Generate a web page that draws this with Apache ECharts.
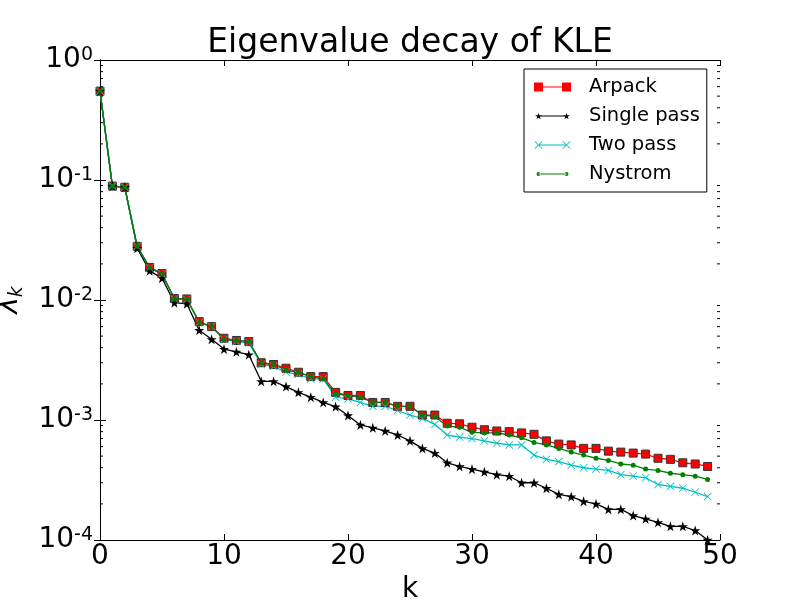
<!DOCTYPE html>
<html>
<head>
<meta charset="utf-8">
<script src="https://cdn.jsdelivr.net/npm/echarts@6/dist/echarts.min.js"></script>
<style>
  html, body { margin: 0; padding: 0; background: #fff; }
  #chart { width: 800px; height: 600px; }
</style>
</head>
<body>
<div id="chart"></div>
<script>
// eigenvalue index
const kValues = [0, 1, 2, 3, 4, 5, 6, 7, 8, 9,
  10, 11, 12, 13, 14, 15, 16, 17, 18, 19,
  20, 21, 22, 23, 24, 25, 26, 27, 28, 29,
  30, 31, 32, 33, 34, 35, 36, 37, 38, 39,
  40, 41, 42, 43, 44, 45, 46, 47, 48, 49]

const arpack = [0.55, 0.089, 0.087, 0.028, 0.0187, 0.0166, 0.0103, 0.0102, 0.0066, 0.006,
  0.0048, 0.0046, 0.0045, 0.003, 0.0029, 0.0027, 0.0025, 0.0023, 0.0023, 0.0017,
  0.0016, 0.0016, 0.0014, 0.0014, 0.0013, 0.0013, 0.0011, 0.0011, 0.00094, 0.00093,
  0.00087, 0.00083, 0.00081, 0.0008, 0.00078, 0.00076, 0.00067, 0.00063, 0.00062, 0.00058,
  0.00058, 0.00055, 0.00054, 0.00053, 0.00052, 0.00048, 0.00047, 0.00044, 0.00043, 0.00041]

const singlePass = [0.55, 0.089, 0.087, 0.027, 0.0175, 0.0152, 0.0095, 0.0093, 0.0056, 0.0047,
  0.0039, 0.0037, 0.0035, 0.0021, 0.0021, 0.0019, 0.0017, 0.00155, 0.0014, 0.00129,
  0.00109, 0.00091, 0.00086, 0.00081, 0.00075, 0.00067, 0.00058, 0.00053, 0.00044, 0.00041,
  0.00039, 0.00037, 0.00035, 0.00034, 0.0003, 0.0003, 0.00027, 0.00024, 0.00023, 0.00021,
  0.0002, 0.00018, 0.00018, 0.00016, 0.00015, 0.00014, 0.00013, 0.00013, 0.00012, 0.0001]

const twoPass = [0.55, 0.089, 0.087, 0.028, 0.0185, 0.0164, 0.0102, 0.0101, 0.0065, 0.006,
  0.0047, 0.0045, 0.0044, 0.0029, 0.0028, 0.0025, 0.0024, 0.0022, 0.0022, 0.00155,
  0.0015, 0.0014, 0.0013, 0.0013, 0.0012, 0.0011, 0.00103, 0.00092, 0.00075, 0.00072,
  0.0007, 0.00067, 0.00064, 0.00062, 0.00062, 0.00051, 0.00047, 0.00045, 0.00042, 0.0004,
  0.00039, 0.00038, 0.00035, 0.00034, 0.00033, 0.00029, 0.00028, 0.00027, 0.00025, 0.00023]

const nystrom = [0.55, 0.089, 0.087, 0.028, 0.0186, 0.0165, 0.0102, 0.0102, 0.0065, 0.006,
  0.0047, 0.0046, 0.0045, 0.003, 0.0029, 0.0026, 0.0025, 0.0023, 0.0022, 0.00165,
  0.0016, 0.00155, 0.0014, 0.0014, 0.0013, 0.0013, 0.0011, 0.00107, 0.00089, 0.00087,
  0.00079, 0.00078, 0.00078, 0.00075, 0.00071, 0.00065, 0.00062, 0.00058, 0.00054, 0.00051,
  0.00048, 0.00046, 0.00043, 0.00042, 0.00039, 0.00038, 0.00036, 0.00035, 0.00034, 0.00032]

const FONT = 'DejaVu Sans'

// marker shapes
function starPath(cx, cy, r) {
  let d = ''
  for (let i = 0; i < 10; i++) {
    const rr = i % 2 === 0 ? r : r * 0.382
    const a = -Math.PI / 2 + i * Math.PI / 5
    d += (i === 0 ? 'M' : 'L') + (cx + rr * Math.cos(a)).toFixed(2) + ',' + (cy + rr * Math.sin(a)).toFixed(2)
  }
  return d + 'Z'
}
function crossPath(x, y, s, t) {
  // filled "x" of size s, bar half-thickness t
  return 'M' + x + ',' + (y + t) + 'L' + (x + t) + ',' + y + 'L' + (x + s / 2) + ',' + (y + s / 2 - t) +
    'L' + (x + s - t) + ',' + y + 'L' + (x + s) + ',' + (y + t) + 'L' + (x + s / 2 + t) + ',' + (y + s / 2) +
    'L' + (x + s) + ',' + (y + s - t) + 'L' + (x + s - t) + ',' + (y + s) + 'L' + (x + s / 2) + ',' + (y + s / 2 + t) +
    'L' + (x + t) + ',' + (y + s) + 'L' + x + ',' + (y + s - t) + 'L' + (x + s / 2 - t) + ',' + (y + s / 2) + 'Z'
}
function circlePath(cx, cy, r) {
  return 'M' + (cx - r) + ',' + cy + 'A' + r + ',' + r + ',0,1,0,' + (cx + r) + ',' + cy +
    'A' + r + ',' + r + ',0,1,0,' + (cx - r) + ',' + cy + 'Z'
}
const BOX = 'M0,0M37,9'
const LINE = 'M4.5,3.9h28v1.2h-28z'
const legendIcons = {
  Arpack: 'path://' + BOX + 'M0,0h9v9h-9zM9,3.9h19v1.2h-19zM28,0h9v9h-9z',
  'Single pass': 'path://' + BOX + LINE + starPath(4.5, 4.8, 3.6) + starPath(32.5, 4.8, 3.6),
  'Two pass': 'path://' + BOX + LINE + crossPath(0.5, 0.5, 8, 0.6) + crossPath(28.5, 0.5, 8, 0.6),
  Nystrom: 'path://' + BOX + LINE + circlePath(4.5, 4.5, 2) + circlePath(32.5, 4.5, 2)
}

const toPairs = arr => kValues.map((k, i) => [k, arr[i]])

const chart = echarts.init(document.getElementById('chart'))

const tickStyle = { show: true, inside: true, length: 6, lineStyle: { color: '#000', width: 1 } }
const lineAxis = { show: true, lineStyle: { color: '#000', width: 1 } }

const option = {
  animation: false,
  backgroundColor: '#fff',
  title: {
    text: 'Eigenvalue decay of KLE',
    left: 405,
    textAlign: 'center',
    top: 22,
    textStyle: { fontFamily: FONT, fontSize: 33, fontWeight: 'normal', color: '#000' }
  },
  grid: { left: 100, right: 80, top: 60, bottom: 60, containLabel: false, outerBoundsMode: 'none' },
  legend: {
    orient: 'vertical',
    left: 524,
    top: 69,
    padding: [8, 7, 8, 10],
    itemGap: 9,
    itemWidth: 37,
    itemHeight: 9,
    backgroundColor: '#fff',
    borderColor: '#000',
    borderWidth: 1,
    borderRadius: 0,
    textStyle: { fontFamily: FONT, fontSize: 19.5, color: '#000', padding: [0, 0, 0, 13] },
    data: Object.keys(legendIcons).map(name => ({ name, icon: legendIcons[name], itemStyle: { borderWidth: 0 } }))
  },
  xAxis: [{
    type: 'value',
    min: 0, max: 50, interval: 10,
    name: 'k',
    nameLocation: 'middle',
    nameGap: 27,
    nameTextStyle: { fontFamily: FONT, fontSize: 28, color: '#000' },
    axisLine: lineAxis,
    axisTick: tickStyle,
    splitLine: { show: false },
    axisLabel: { fontFamily: FONT, fontSize: 28, color: '#000', margin: 3 }
  }, {
    type: 'value',
    position: 'top',
    min: 0, max: 50, interval: 10,
    axisLine: lineAxis,
    axisTick: tickStyle,
    splitLine: { show: false },
    axisLabel: { show: false }
  }],
  yAxis: [{
    type: 'log',
    logBase: 10,
    min: 0.0001, max: 1,
    name: '{l|λ}{s|k}',
    nameLocation: 'middle',
    nameRotate: 90,
    nameGap: 73,
    nameTextStyle: {
      rich: {
        l: { fontFamily: FONT, fontSize: 28, fontStyle: 'italic', color: '#000', lineHeight: 34, verticalAlign: 'middle' },
        s: { fontFamily: FONT, fontSize: 19, fontStyle: 'italic', color: '#000', lineHeight: 19, verticalAlign: 'bottom' }
      }
    },
    axisLine: lineAxis,
    axisTick: tickStyle,
    splitLine: { show: false },
    axisLabel: {
      margin: 7,
      formatter: v => '{b|10}{e|' + Math.round(Math.log10(v)) + '}',
      rich: {
        b: { fontFamily: FONT, fontSize: 28, color: '#000', lineHeight: 28, verticalAlign: 'bottom' },
        e: { fontFamily: FONT, fontSize: 19, color: '#000', lineHeight: 19, verticalAlign: 'top' }
      },
      lineHeight: 34
    }
  }, {
    type: 'log',
    logBase: 10,
    position: 'right',
    min: 0.0001, max: 1,
    axisLine: lineAxis,
    axisTick: tickStyle,
    splitLine: { show: false },
    axisLabel: { show: false }
  }],
  series: [{
    name: 'Arpack',
    type: 'line',
    data: toPairs(arpack),
    symbol: 'rect',
    symbolSize: 8,
    itemStyle: { color: '#ff0000', borderColor: '#333', borderWidth: 1 },
    lineStyle: { color: '#ff0000', width: 1.3 }
  }, {
    name: 'Single pass',
    type: 'line',
    data: toPairs(singlePass),
    symbol: 'path://' + starPath(50, 50, 50),
    symbolSize: 10,
    itemStyle: { color: '#000', borderWidth: 0 },
    lineStyle: { color: '#000', width: 1.3 }
  }, {
    name: 'Two pass',
    type: 'line',
    data: toPairs(twoPass),
    symbol: 'path://' + crossPath(0, 0, 10, 0.7),
    symbolSize: 8,
    itemStyle: { color: '#00bfbf', borderWidth: 0 },
    lineStyle: { color: '#00bfbf', width: 1.3 }
  }, {
    name: 'Nystrom',
    type: 'line',
    data: toPairs(nystrom),
    symbol: 'circle',
    symbolSize: 5,
    itemStyle: { color: '#008000', borderWidth: 0 },
    lineStyle: { color: '#008000', width: 1.3 }
  }]
}

chart.setOption(option)

// log-axis minor ticks at 2..9 x 10^n, on both vertical sides
const minorTicks = []
for (let e = -4; e < 0; e++) {
  for (let m = 2; m <= 9; m++) minorTicks.push(m * Math.pow(10, e))
}
const x0 = chart.convertToPixel({ xAxisIndex: 0 }, 0)
const x1 = chart.convertToPixel({ xAxisIndex: 0 }, 50)
const ticks = []
minorTicks.forEach(v => {
  const y = chart.convertToPixel({ yAxisIndex: 0 }, v)
  ticks.push({ type: 'line', shape: { x1: x0, y1: y, x2: x0 + 3, y2: y }, style: { stroke: '#000', lineWidth: 1 }, silent: true })
  ticks.push({ type: 'line', shape: { x1: x1, y1: y, x2: x1 - 3, y2: y }, style: { stroke: '#000', lineWidth: 1 }, silent: true })
})
chart.setOption({ graphic: ticks })
</script>
</body>
</html>
